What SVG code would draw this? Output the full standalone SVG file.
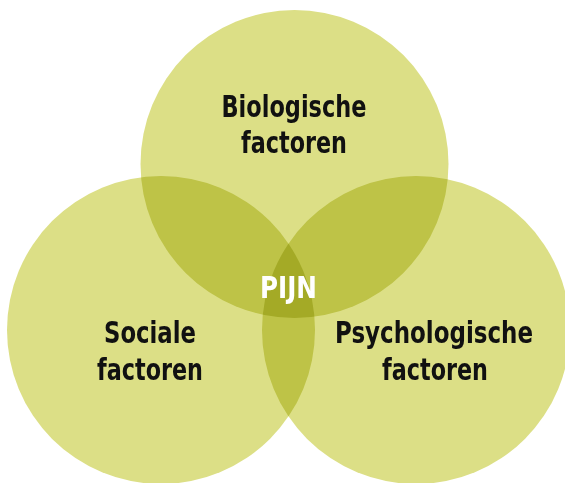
<svg xmlns="http://www.w3.org/2000/svg" width="565" height="483" viewBox="0 0 565 483">
<style>
.c{fill:#dcdf86;mix-blend-mode:multiply}
.t{font-family:"DejaVu Sans Condensed","DejaVu Sans","Liberation Sans",sans-serif;font-weight:bold;font-size:30px;fill:#111;text-anchor:middle}
.p{fill:#fff}
</style>
<rect width="565" height="483" fill="#fff"/>
<g style="isolation:isolate">
<g id="biologisch"><circle class="c" cx="294.5" cy="164" r="154"/></g>
<g id="sociaal"><circle class="c" cx="161" cy="330" r="154"/></g>
<g id="psychologisch"><circle class="c" cx="416" cy="330" r="154"/></g>
</g>
<g id="labels">
<text class="t" x="294" y="117" textLength="145" lengthAdjust="spacingAndGlyphs">Biologische</text>
<text class="t" x="294" y="153" textLength="106" lengthAdjust="spacingAndGlyphs">factoren</text>
<text class="t" x="150" y="343" textLength="92" lengthAdjust="spacingAndGlyphs">Sociale</text>
<text class="t" x="150" y="380" textLength="106" lengthAdjust="spacingAndGlyphs">factoren</text>
<text class="t" x="434" y="343" textLength="198" lengthAdjust="spacingAndGlyphs">Psychologische</text>
<text class="t" x="435" y="380" textLength="106" lengthAdjust="spacingAndGlyphs">factoren</text>
<text class="t p" x="288.5" y="298" textLength="57" lengthAdjust="spacingAndGlyphs">PIJN</text>
</g>
</svg>
